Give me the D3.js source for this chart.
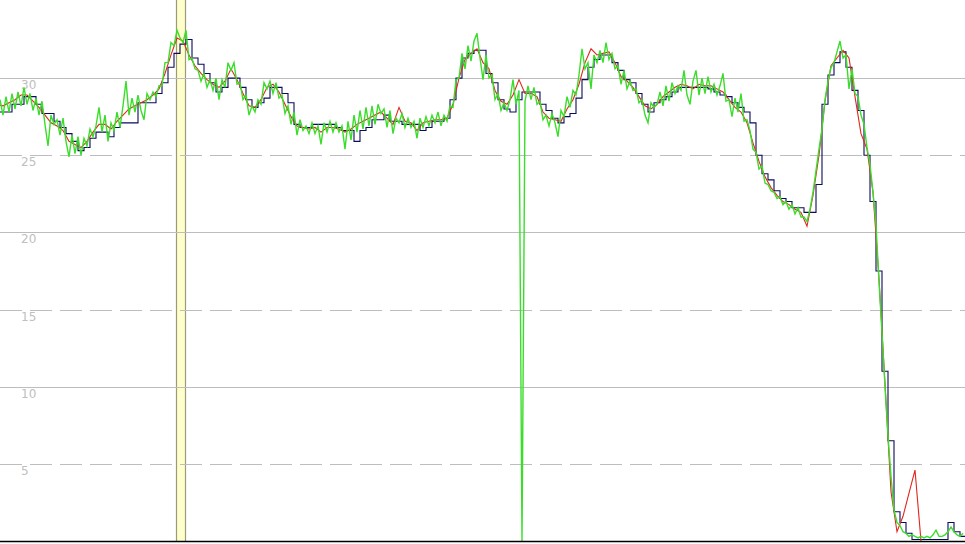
<!DOCTYPE html>
<html>
<head>
<meta charset="utf-8">
<script src="https://cdn.jsdelivr.net/npm/d3@7/dist/d3.min.js"></script>
<style>
  html, body { margin: 0; padding: 0; background: #fff; }
  svg { display: block; }
</style>
</head>
<body>
<svg id="chart" width="965" height="544"></svg>
<script>
// ---- data ----
const timeEnd = 965;
const yMax = 35.06;
const tickValues = [5, 10, 15, 20, 25, 30];
const tickLabels = ["5", "10", "15", "20", "25", "30"];
const dashedTicks = [5, 15, 25];
const markerBand = [176, 185];

// green: sampled every 3 time units from t=0
const greenStart = 0, greenStep = 3;
const greenValues = [
  28.6, 27.6, 28.8, 27.8, 29.0, 28.0, 29.1, 28.2, 29.4, 28.3,
  29.0, 27.9, 28.7, 27.6, 28.5, 27.0, 25.6, 27.6, 27.0, 27.3,
  26.3, 27.4, 25.9, 24.9, 26.3, 25.1, 26.2, 25.0, 26.1, 25.6,
  26.7, 26.2, 26.9, 28.1, 26.5, 27.6, 25.9, 27.1, 26.6, 27.8,
  26.8, 28.2, 29.8, 27.6, 28.7, 27.8, 28.9, 27.9, 27.3, 29.0,
  28.6, 29.1, 28.8, 29.5, 29.5, 31.0, 31.0, 32.3, 32.1, 33.1,
  32.6, 32.3, 33.1, 31.2, 31.3, 30.6, 30.5, 29.8, 30.3, 29.4,
  29.9, 29.2, 30.0, 28.6, 29.9, 29.4, 31.0, 30.5, 31.0, 29.6,
  29.7, 28.6, 28.9, 27.6, 28.2, 27.8, 28.6, 28.3, 29.7, 29.3,
  29.8, 29.0, 29.7, 28.7, 28.9, 27.7, 28.2, 27.0, 27.8, 26.3,
  27.3, 26.6, 26.9, 26.4, 27.1, 26.4, 26.9, 25.7, 27.1, 26.5,
  27.2, 26.5, 27.1, 26.5, 26.9, 25.4, 27.2, 26.0, 27.6, 26.5,
  27.9, 26.7, 28.1, 26.9, 28.2, 27.0, 28.3, 27.7, 28.0, 26.8,
  27.9, 26.4, 27.4, 27.1, 27.7, 26.8, 27.4, 26.8, 27.2, 26.1,
  27.4, 26.8, 27.5, 26.9, 27.6, 27.1, 27.8, 26.9, 27.6, 27.2,
  28.2, 28.1, 29.9, 30.0, 31.6, 30.6, 32.1, 31.1, 32.4, 32.9,
  31.3, 29.9, 31.5, 30.0, 30.2, 28.6, 29.0, 27.9, 28.4, 27.9,
  28.6, 29.9, 28.3, 29.2, 0.0, 28.5, 29.5, 28.6, 29.4, 28.3,
  28.5, 27.3, 27.6, 26.9, 27.7, 27.1, 26.2, 27.9, 27.5, 28.8,
  28.1, 29.2, 28.9, 30.2, 31.9, 30.6, 31.0, 29.3, 31.5, 31.0,
  31.8, 31.0, 32.3, 31.2, 31.6, 30.6, 30.8, 29.6, 30.5, 29.3,
  29.8, 29.2, 29.3, 28.4, 28.6, 27.6, 27.1, 28.4, 28.1, 28.3,
  29.1, 28.2, 29.5, 28.5, 29.7, 29.0, 29.5, 29.2, 30.5, 28.9,
  28.3, 29.8, 30.5, 28.9, 30.0, 29.0, 30.1, 29.1, 29.6, 28.9,
  29.5, 30.3, 28.5, 28.6, 27.5, 28.7, 27.8, 29.0, 27.2, 27.3,
  26.6, 25.4, 25.2, 24.1, 24.3, 23.2, 23.1, 22.7, 22.6, 22.2,
  22.3, 21.8, 22.0, 21.5, 21.8, 21.2, 21.6, 21.0, 21.0, 20.7,
  21.5, 22.6, 24.0, 25.4, 26.7, 28.6, 29.8, 30.7, 31.0, 31.7,
  32.4, 31.3, 31.5, 29.3, 30.6, 29.0, 28.8, 27.6, 27.0, 25.5,
  24.4, 22.6, 20.5, 16.8, 13.5, 10.0, 6.8, 4.2, 2.0, 1.2,
  1.0, 0.6, 0.5, 0.3, 0.4, 0.3, 0.2, 0.3, 0.2, 0.3,
  0.2, 0.4, 0.7, 0.3, 0.3, 0.4, 0.6, 0.9, 0.6, 0.4, 0.3, 0.5
];

// red: sampled every 6 time units from t=-3
const redStart = -3, redStep = 6;
const redValues = [
  28.3, 28.2, 28.4, 28.6, 28.9, 28.9, 28.5, 28.1, 27.6, 27.1,
  26.9, 26.6, 25.9, 25.7, 25.5, 25.9, 26.5, 27.0, 27.0, 26.7,
  27.2, 27.6, 28.0, 28.2, 28.4, 28.6, 28.9, 29.3, 30.3, 31.5,
  32.6, 32.4, 31.5, 30.8, 30.3, 29.9, 29.6, 29.4, 29.8, 30.6,
  29.9, 29.0, 28.2, 28.1, 28.6, 29.4, 29.6, 29.1, 28.3, 27.5,
  26.9, 26.8, 26.7, 26.8, 26.5, 26.8, 26.8, 26.7, 26.5, 26.7,
  27.0, 27.2, 27.4, 27.6, 27.8, 27.4, 27.0, 28.1, 27.2, 27.1,
  26.6, 27.1, 27.2, 27.3, 27.3, 27.4, 28.3, 30.0, 31.2, 31.6,
  31.9, 31.0, 30.6, 29.2, 28.5, 28.3, 28.9, 29.9, 29.0, 29.0,
  28.8, 27.8, 27.4, 27.3, 27.2, 28.0, 28.6, 29.6, 31.0, 31.9,
  31.5, 31.6, 31.7, 31.0, 30.1, 29.8, 29.4, 28.8, 28.2, 28.0,
  28.3, 28.8, 29.1, 29.4, 29.6, 29.5, 29.3, 29.6, 29.5, 29.5,
  29.3, 29.1, 28.6, 28.1, 27.8, 27.1, 25.8, 24.6, 23.6, 22.9,
  22.4, 22.0, 21.8, 21.5, 21.3, 20.4, 22.4, 25.0, 28.5, 30.8,
  31.3, 31.8, 31.3, 28.8, 26.4, 25.4, 22.6, 17.0, 10.2, 3.2,
  0.6, 1.6, 3.1, 4.6, 0.0
];

// blue: step series, a new value every 6 time units from t=0
const blueStart = 0, blueStep = 6;
const blueValues = [
  27.8, 27.8, 28.3, 28.3, 28.8, 28.8, 28.3, 27.7, 27.7, 27.2,
  26.8, 26.4, 25.9, 25.3, 25.5, 26.1, 26.5, 26.5, 26.2, 26.8,
  27.1, 27.1, 27.1, 28.4, 28.4, 28.4, 29.0, 29.7, 30.7, 31.6,
  32.2, 32.5, 31.3, 30.9, 30.3, 29.7, 29.1, 29.4, 30.0, 30.0,
  29.4, 28.6, 28.1, 28.4, 28.7, 29.4, 29.4, 29.0, 28.4, 27.0,
  26.8, 26.8, 27.0, 27.0, 27.0, 27.0, 26.8, 26.6, 26.6, 25.9,
  26.6, 26.8, 27.3, 27.3, 27.6, 27.2, 27.2, 27.0, 27.0, 27.0,
  26.6, 26.8, 27.2, 27.2, 27.4, 28.6, 30.0, 31.3, 31.6, 31.8,
  31.8, 30.3, 29.7, 28.6, 28.0, 27.8, 28.6, 29.1, 29.1, 29.1,
  28.3, 27.9, 27.4, 27.1, 27.5, 27.7, 28.7, 29.9, 30.7, 31.2,
  31.5, 31.5, 31.0, 30.5, 29.9, 29.7, 29.0, 28.3, 27.8, 28.4,
  28.6, 28.8, 29.1, 29.4, 29.4, 29.4, 29.4, 29.4, 29.3, 29.1,
  28.9, 28.8, 28.4, 28.1, 27.8, 27.1, 25.0, 23.8, 23.4, 22.7,
  22.2, 22.0, 21.6, 21.6, 21.3, 21.3, 23.1, 28.3, 30.2, 31.0,
  31.7, 30.7, 29.2, 27.9, 25.0, 22.0, 17.5, 11.0, 6.5, 1.9,
  1.2, 0.5, 0.1, 0.1, 0.1, 0.1, 0.1, 0.1, 1.2, 0.6,
  0.3
];

// ---- build ----
const W = 965, H = 544;
const svg = d3.select("#chart");
const x = d3.scaleLinear().domain([0, timeEnd]).range([0, W]);
const y = d3.scaleLinear().domain([0, yMax]).range([541, 0]);

const toPts = (vals, start, step) => vals.map((v, i) => ({ t: start + i * step, v }));
const green = toPts(greenValues, greenStart, greenStep);
const red = toPts(redValues, redStart, redStep);
const blue = toPts(blueValues, blueStart, blueStep);
blue.push({ t: timeEnd, v: blueValues[blueValues.length - 1] });

// marker band
svg.append("rect")
  .attr("x", x(markerBand[0]))
  .attr("y", 0)
  .attr("width", x(markerBand[1]) - x(markerBand[0]))
  .attr("height", y(0))
  .attr("fill", "#ffffcc")
  .attr("stroke", "none");
markerBand.forEach(b => {
  svg.append("line")
    .attr("x1", x(b) + 0.5).attr("x2", x(b) + 0.5)
    .attr("y1", 0).attr("y2", y(0))
    .attr("stroke", "#9a9a7c").attr("stroke-width", 1.2);
});

// grid
const grid = svg.append("g");
grid.selectAll("line")
  .data(tickValues)
  .join("line")
  .attr("x1", 0).attr("x2", W)
  .attr("y1", d => Math.round(y(d)) + 0.5)
  .attr("y2", d => Math.round(y(d)) + 0.5)
  .attr("stroke", "#bdbdbd")
  .attr("stroke-width", 1)
  .attr("stroke-dasharray", d => dashedTicks.includes(d) ? "22,8" : null);

grid.selectAll("text")
  .data(tickValues)
  .join("text")
  .attr("x", 21)
  .attr("y", d => y(d) + 11)
  .attr("fill", "#c0c0c0")
  .attr("font-family", "DejaVu Sans, sans-serif")
  .attr("font-size", 12)
  .text((d, i) => tickLabels[i]);

// lines
const lineGen = d3.line().x(d => x(d.t)).y(d => y(d.v));
const stepGen = d3.line().x(d => x(d.t)).y(d => y(d.v)).curve(d3.curveStepAfter);

svg.append("path").datum(blue)
  .attr("d", stepGen)
  .attr("fill", "none")
  .attr("stroke", "#0b0b5e")
  .attr("stroke-width", 1.1);

svg.append("path").datum(red)
  .attr("d", lineGen)
  .attr("fill", "none")
  .attr("stroke", "#e0261e")
  .attr("stroke-width", 1.1);

svg.append("path").datum(green)
  .attr("d", lineGen)
  .attr("fill", "none")
  .attr("stroke", "#3ade2a")
  .attr("stroke-width", 1.4);

// baseline axis
svg.append("line")
  .attr("x1", 0).attr("x2", W)
  .attr("y1", y(0) + 0.5).attr("y2", y(0) + 0.5)
  .attr("stroke", "#000").attr("stroke-width", 1.6);
</script>
</body>
</html>
